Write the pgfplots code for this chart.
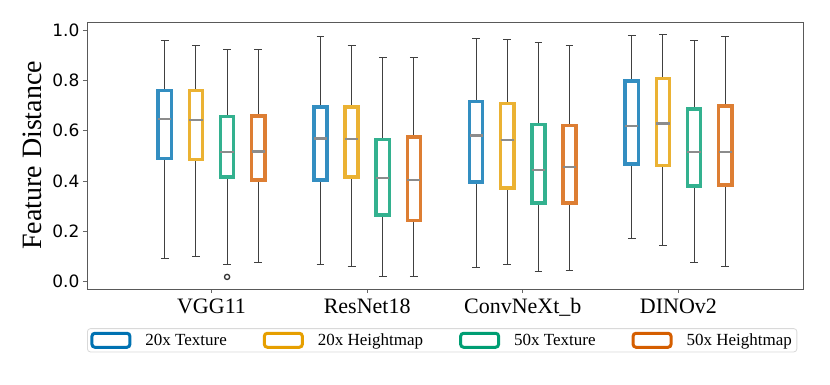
\documentclass[border=0pt]{standalone}
\usepackage{fontspec}
\setmainfont{Liberation Serif}
\newfontfamily\dejavu{DejaVu Sans}
\usepackage{pgfplots}
\pgfplotsset{compat=1.18}
\usepgfplotslibrary{statistics}

\definecolor{cblue}{RGB}{0,114,178}
\definecolor{corange}{RGB}{230,159,0}
\definecolor{cgreen}{RGB}{0,158,115}
\definecolor{cred}{RGB}{213,94,0}

% one box: colour, position, lw, q1, med, q3, uw
\newcommand{\onebox}[7]{%
\addplot[forget plot, draw=black!75, line width=1pt,
  boxplot/draw direction=y,
  boxplot/every box/.style={draw=#1!80!white, line width=3.5pt},
  boxplot/every median/.style={draw=black!45, line width=2.2pt},
  boxplot prepared={draw position=#2, lower whisker=#3, lower quartile=#4,
    median=#5, upper quartile=#6, upper whisker=#7,
    box extend=0.085, whisker extend=0.05}] coordinates {};
}

\begin{document}
\begin{tikzpicture}[x=1pt,y=1pt]
\useasboundingbox (0,0) rectangle (830,385);
\begin{axis}[
at={(87pt,96pt)}, anchor=south west,
scale only axis,
width=716pt, height=267pt,
xmin=0.2, xmax=4.8,
ymin=-0.029, ymax=1.032,
xtick={1,2,3,4},
xticklabels={VGG11, ResNet18, ConvNeXt\_b, DINOv2},
ytick={0,0.2,0.4,0.6,0.8,1.0},
/pgf/number format/.cd, fixed, fixed zerofill, precision=1, assume math mode=true,
/pgfplots/.cd,
tick align=outside, tick pos=left,
major tick length=4pt,
tick style={black!60, line width=0.8pt},
axis line style={black!65, line width=0.9pt},
xticklabel style={font=\fontsize{22}{24}\selectfont, yshift=-2pt},
yticklabel style={font=\dejavu\fontsize{17}{20}\selectfont},
ylabel={Feature Distance},
ylabel style={font=\fontsize{28}{32}\selectfont, at={(axis description cs:-0.0768,0.5)}, anchor=center},
legend columns=4,
legend style={at={(axis description cs:0.496,-0.192)}, anchor=center,
  draw=black!15, rounded corners=3pt, line width=0.8pt,
  font=\fontsize{17}{20}\selectfont, inner ysep=3pt,
  /tikz/every odd column/.append style={column sep=12pt},
  /tikz/every even column/.append style={column sep=34pt}},
]
% VGG11
\onebox{cblue}{0.7}{0.091}{0.490}{0.646}{0.760}{0.959}
\onebox{corange}{0.9}{0.099}{0.485}{0.644}{0.760}{0.940}
\onebox{cgreen}{1.1}{0.070}{0.416}{0.514}{0.657}{0.923}
\onebox{cred}{1.3}{0.075}{0.405}{0.517}{0.658}{0.923}
\addplot[forget plot, draw=black!80, line width=1.3pt, mark=o, mark size=2.6pt,
  boxplot/draw direction=y,
  boxplot prepared={draw position=1.1, lower whisker=0.070, lower quartile=0.416,
    median=0.514, upper quartile=0.657, upper whisker=0.923,
    box extend=0.085, whisker extend=0.05},
  boxplot/every box/.style={draw=none},
  boxplot/every median/.style={draw=none},
  boxplot/every whisker/.style={draw=none}] coordinates {(0,0.019)};
% ResNet18
\onebox{cblue}{1.7}{0.070}{0.404}{0.569}{0.694}{0.975}
\onebox{corange}{1.9}{0.060}{0.417}{0.568}{0.694}{0.940}
\onebox{cgreen}{2.1}{0.019}{0.266}{0.411}{0.566}{0.891}
\onebox{cred}{2.3}{0.019}{0.244}{0.405}{0.575}{0.890}
% ConvNeXt_b
\onebox{cblue}{2.7}{0.056}{0.397}{0.581}{0.716}{0.965}
\onebox{corange}{2.9}{0.070}{0.372}{0.563}{0.708}{0.961}
\onebox{cgreen}{3.1}{0.041}{0.313}{0.445}{0.624}{0.952}
\onebox{cred}{3.3}{0.045}{0.313}{0.456}{0.620}{0.938}
% DINOv2
\onebox{cblue}{3.7}{0.172}{0.467}{0.618}{0.797}{0.979}
\onebox{corange}{3.9}{0.142}{0.461}{0.629}{0.808}{0.984}
\onebox{cgreen}{4.1}{0.078}{0.381}{0.515}{0.686}{0.959}
\onebox{cred}{4.3}{0.061}{0.385}{0.515}{0.698}{0.976}

\addlegendimage{legend image code/.code={\draw[draw=cblue, line width=3pt] (0pt,-7pt) rectangle (38pt,7pt);}}
\addlegendentry{20x Texture}
\addlegendimage{legend image code/.code={\draw[draw=corange, line width=3pt] (0pt,-7pt) rectangle (38pt,7pt);}}
\addlegendentry{20x Heightmap}
\addlegendimage{legend image code/.code={\draw[draw=cgreen, line width=3pt] (0pt,-7pt) rectangle (38pt,7pt);}}
\addlegendentry{50x Texture}
\addlegendimage{legend image code/.code={\draw[draw=cred, line width=3pt] (0pt,-7pt) rectangle (38pt,7pt);}}
\addlegendentry{50x Heightmap}
\end{axis}
\end{tikzpicture}
\end{document}
